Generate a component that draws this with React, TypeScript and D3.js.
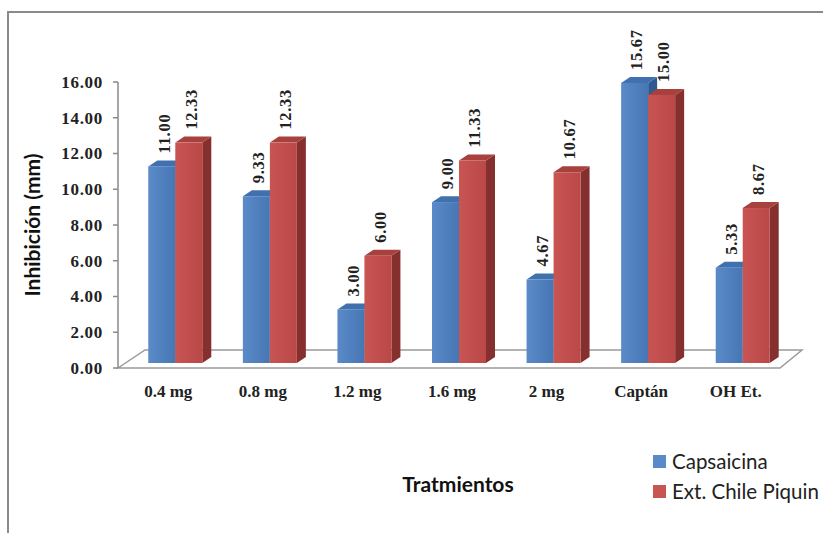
import React from "react";
import * as d3 from "d3";

const categories = ["0.4 mg", "0.8 mg", "1.2 mg", "1.6 mg", "2 mg", "Captán", "OH Et."];
const seriesNames = ["Capsaicina", "Ext. Chile Piquin"];
const capsaicina = [11.0, 9.33, 3.0, 9.0, 4.67, 15.67, 5.33];
const chilePiquin = [12.33, 12.33, 6.0, 11.33, 10.67, 15.0, 8.67];
const yTicks = [0, 2, 4, 6, 8, 10, 12, 14, 16];

const W = 823;
const H = 533;
const X0 = 118;
const X1 = 780;
const Y0 = 368;
const Y1 = 82;
const FLOOR_DX = 27;
const FLOOR_DY = -18;
const BAR_DX = 10;
const BAR_DY = -5;
const DEPTH_DX = 9;
const DEPTH_DY = -6;

const colors = [
  { front0: "#5a8ac7", front1: "#4676b4", top: "#4070ad", side: "#2e5a92" },
  { front0: "#c95553", front1: "#b94846", top: "#a8403d", side: "#85302e" },
];

export default function App() {
  const y = d3.scaleLinear().domain([0, 16]).range([Y0, Y1]);
  const x = d3
    .scaleBand<string>()
    .domain(categories)
    .range([X0, X1])
    .paddingInner(0.429)
    .paddingOuter(0.2145);
  const xs = d3.scaleBand<string>().domain(seriesNames).range([0, x.bandwidth()]);
  const series = [capsaicina, chilePiquin];
  const fmt = d3.format(".2f");

  const serifFont = "'Liberation Serif', 'DejaVu Serif', serif";
  const sansFont = "Lato, 'Open Sans', sans-serif";

  const bars: React.ReactNode[] = [];
  const labels: React.ReactNode[] = [];
  categories.forEach((c, ci) => {
    series.forEach((vals, si) => {
      const v = vals[ci];
      const bx = (x(c) as number) + (xs(seriesNames[si]) as number) + BAR_DX;
      const bw = xs.bandwidth();
      const top = y(v) + BAR_DY;
      const bot = y(0) + BAR_DY;
      const col = colors[si];
      const pts = (arr: number[][]) => arr.map((p) => p.join(",")).join(" ");
      bars.push(
        <g key={`b-${ci}-${si}`}>
          <polygon
            points={pts([
              [bx + bw, top],
              [bx + bw + DEPTH_DX, top + DEPTH_DY],
              [bx + bw + DEPTH_DX, bot + DEPTH_DY],
              [bx + bw, bot],
            ])}
            fill={col.side}
          />
          <polygon
            points={pts([
              [bx, top],
              [bx + DEPTH_DX, top + DEPTH_DY],
              [bx + bw + DEPTH_DX, top + DEPTH_DY],
              [bx + bw, top],
            ])}
            fill={col.top}
          />
          <rect x={bx} y={top} width={bw} height={bot - top} fill={`url(#grad${si})`} />
        </g>
      );
      const lx = bx + bw / 2 + 2;
      const ly = top + DEPTH_DY - 7;
      labels.push(
        <text
          key={`l-${ci}-${si}`}
          transform={`translate(${lx},${ly}) rotate(-90)`}
          dy="0.35em"
          textAnchor="start"
          fontFamily={serifFont}
          fontWeight="bold"
          fontSize={16.5}
          letterSpacing={0.7}
          fill="#222"
        >
          {fmt(v)}
        </text>
      );
    });
  });

  return (
    <svg
      width={W}
      height={H}
      style={{ position: "absolute", left: 0, top: 0, background: "#fff" }}
    >
      <defs>
        {colors.map((c, i) => (
          <linearGradient key={i} id={`grad${i}`} x1="0" x2="1" y1="0" y2="0">
            <stop offset="0" stopColor={c.front0} />
            <stop offset="1" stopColor={c.front1} />
          </linearGradient>
        ))}
      </defs>
      <rect x={0} y={0} width={W} height={H} fill="#fff" />
      <path d={`M8,${H + 2} L8,12 L${W + 2},12`} fill="none" stroke="#8a8a8a" strokeWidth={2} />

      <polygon
        points={`${X0},${Y0} ${X0 + FLOOR_DX},${Y0 + FLOOR_DY} ${X1 + 22},${Y0 + FLOOR_DY} ${X1},${Y0}`}
        fill="none"
        stroke="#9a9a9a"
        strokeWidth={1.5}
      />
      <line x1={X0} x2={X0} y1={Y1} y2={Y0} stroke="#8a8a8a" strokeWidth={1.5} />
      {yTicks.map((t) => (
        <g key={t}>
          <line x1={X0 - 5} x2={X0} y1={y(t)} y2={y(t)} stroke="#8a8a8a" strokeWidth={1.5} />
          <text
            x={X0 - 15}
            y={y(t)}
            dy="0.35em"
            textAnchor="end"
            fontFamily={serifFont}
            fontWeight="bold"
            fontSize={17}
            letterSpacing={0.7}
            fill="#222"
          >
            {fmt(t)}
          </text>
        </g>
      ))}

      {bars}
      {labels}

      {categories.map((c) => (
        <text
          key={c}
          x={(x(c) as number) + x.bandwidth() / 2 + 3}
          y={397}
          textAnchor="middle"
          fontFamily={serifFont}
          fontWeight="bold"
          fontSize={17}
          fill="#222"
        >
          {c}
        </text>
      ))}

      <text
        transform={`translate(33,${(Y0 + Y1) / 2}) rotate(-90)`}
        dy="0.35em"
        textAnchor="middle"
        fontFamily={sansFont}
        fontWeight="bold"
        fontSize={21}
        fill="#111"
      >
        Inhibición (mm)
      </text>
      <text
        x={458}
        y={492}
        textAnchor="middle"
        fontFamily={sansFont}
        fontWeight="bold"
        fontSize={21}
        fill="#111"
      >
        Tratmientos
      </text>

      {seriesNames.map((s, i) => (
        <g key={s} transform={`translate(653,${455 + i * 30})`}>
          <rect x={0} y={0} width={13} height={13} fill={colors[i].front0} />
          <text x={19} y={6.5} dy="0.35em" fontFamily={sansFont} fontSize={20.5} fill="#222">
            {s}
          </text>
        </g>
      ))}
    </svg>
  );
}
